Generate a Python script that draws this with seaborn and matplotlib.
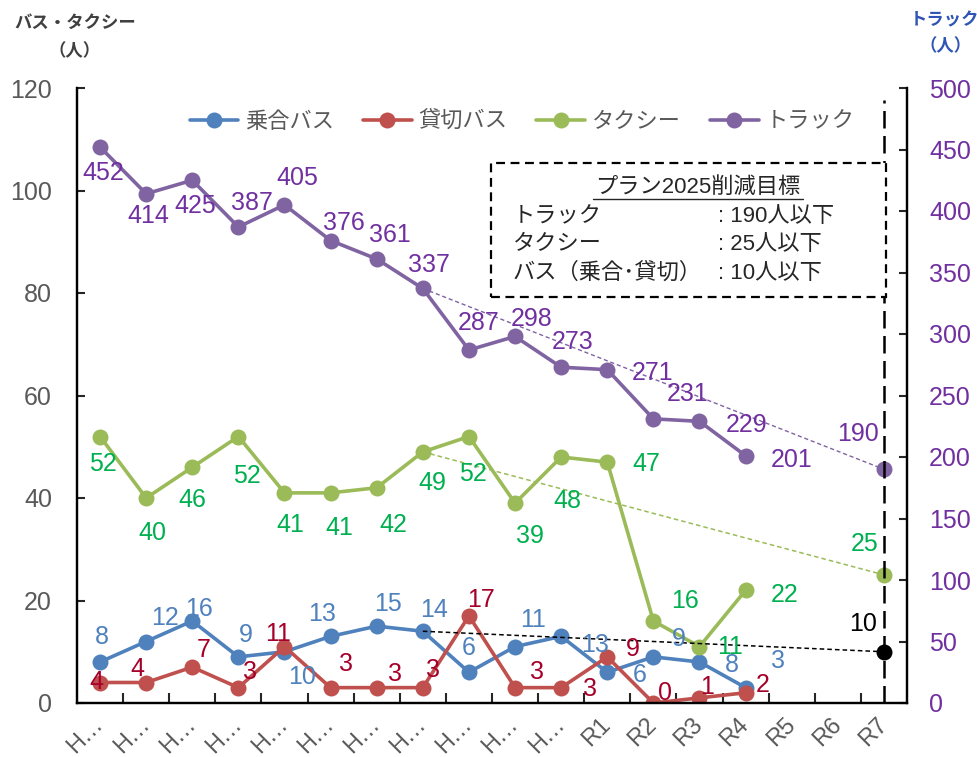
import numpy as np
import pandas as pd
import matplotlib.pyplot as plt
import seaborn as sns
from matplotlib.lines import Line2D
from matplotlib.patches import Rectangle

# 年度（H… は平成、R は令和）
years = ['H…'] * 11 + ['R1', 'R2', 'R3', 'R4', 'R5', 'R6', 'R7']
shared_bus = [8, 12, 16, 9, 10, 13, 15, 14, 6, 11, 13, 6, 9, 8, 3]
charter_bus = [4, 4, 7, 3, 11, 3, 3, 3, 17, 3, 3, 9, 0, 1, 2]
taxi = [52, 40, 46, 52, 41, 41, 42, 49, 52, 39, 48, 47, 16, 11, 22]
truck = [452, 414, 425, 387, 405, 376, 361, 337, 287, 298, 273, 271, 231, 229, 201]

# プラン2025 の目標値（R7）
target_bus = 10
target_taxi = 25
target_truck = 190
trend_start = 7

COL_BUS, COL_CHARTER, COL_TAXI, COL_TRUCK = '#4F81BD', '#C0504D', '#9BBB59', '#8064A2'
TXT_BUS, TXT_CHARTER, TXT_TAXI, TXT_TRUCK = '#4F81BD', '#A5002A', '#00B050', '#7030A0'
GRAY = '#595959'

# label offsets in pixels (dx, dy downward), tuned by eye
off_bus = [(2, -27), (19, -26), (7, -15), (7, -24), (18, 23), (-9, -25), (11, -25), (11, -24),
           (0, -27), (18, -29), (34, 6), (32, 0), (25, -20), (32, 0), (32, -29)]
off_charter = [(-4, -3), (-9, -16), (11, -20), (12, -18), (-6, -15), (15, -26), (18, -16), (10, -20),
               (12, -18), (22, -18), (29, -1), (26, -10), (12, -13), (8, -13), (17, -10)]
off_taxi = [(3, 25), (6, 33), (0, 30), (9, 37), (6, 30), (9, 33), (17, 35), (9, 29),
            (4, 35), (15, 30), (6, 42), (39, -1), (32, -22), (31, -2), (39, 2)]
off_truck = [(3, 23), (2, 20), (3, 23), (14, -26), (13, -29), (13, -20), (13, -26), (6, -26),
             (10, -29), (17, -20), (11, -28), (45, 1), (34, -27), (47, 1), (46, 2)]

sns.set_style('white')
plt.rcParams['font.family'] = ['Liberation Sans', 'Noto Sans CJK JP']

W, H = 978, 757
fig, ax = plt.subplots(figsize=(W / 100, H / 100), dpi=100)
fig.subplots_adjust(left=77 / W, right=907 / W, bottom=1 - 703 / H, top=1 - 88 / H)
ax2 = ax.twinx()

df = pd.DataFrame({'x': range(len(truck)), '乗合バス': shared_bus, '貸切バス': charter_bus,
                   'タクシー': taxi, 'トラック': truck})

line_kw = dict(marker='o', markersize=11.5, linewidth=2.6, markeredgewidth=0)
sns.lineplot(data=df, x='x', y='乗合バス', ax=ax, color=COL_BUS, label='乗合バス', **line_kw)
sns.lineplot(data=df, x='x', y='貸切バス', ax=ax, color=COL_CHARTER, label='貸切バス', **line_kw)
sns.lineplot(data=df, x='x', y='タクシー', ax=ax, color=COL_TAXI, label='タクシー', **line_kw)
sns.lineplot(data=df, x='x', y='トラック', ax=ax2, color=COL_TRUCK, label='トラック', **line_kw)

last = len(years) - 1
# trend lines toward the targets
ax.plot([trend_start, last], [shared_bus[trend_start], target_bus], color='black', lw=1.1, ls=(0, (3, 2)))
ax.plot([trend_start, last], [taxi[trend_start], target_taxi], color=COL_TAXI, lw=1.1, ls=(0, (3, 2)))
ax2.plot([trend_start, last], [truck[trend_start], target_truck], color=COL_TRUCK, lw=1.0, ls=(0, (3, 2)))
ax.plot(last, target_bus, 'o', color='black', markersize=11.5, markeredgewidth=0)
ax.plot(last, target_taxi, 'o', color=COL_TAXI, markersize=11.5, markeredgewidth=0)
ax2.plot(last, target_truck, 'o', color=COL_TRUCK, markersize=11.5, markeredgewidth=0)
ax2.axvline(last, ymin=0, ymax=0.98, color='black', lw=1.8, ls=(0, (7, 3)))


def put_labels(axis, vals, offs, color):
    for i, (v, (dx, dy)) in enumerate(zip(vals, offs)):
        axis.annotate(str(v), (i, v), xytext=(dx, -dy), textcoords='offset pixels',
                      ha='center', va='center_baseline', fontsize=18, color=color)


put_labels(ax, shared_bus, off_bus, TXT_BUS)
put_labels(ax, charter_bus, off_charter, TXT_CHARTER)
put_labels(ax, taxi, off_taxi, TXT_TAXI)
put_labels(ax2, truck, off_truck, TXT_TRUCK)
ax.annotate(str(target_bus), (last, target_bus), xytext=(-21, 30), textcoords='offset pixels',
            ha='center', va='center_baseline', fontsize=18, color='black')
ax.annotate(str(target_taxi), (last, target_taxi), xytext=(-19, 33), textcoords='offset pixels',
            ha='center', va='center_baseline', fontsize=18, color=TXT_TAXI)
ax2.annotate(str(target_truck), (last, target_truck), xytext=(-26, 38), textcoords='offset pixels',
             ha='center', va='center_baseline', fontsize=18, color=TXT_TRUCK)

# axes
ax.set_xlim(-0.5, last + 0.5)
ax.set_ylim(0, 120)
ax2.set_ylim(0, 500)
ax.set_yticks(range(0, 121, 20))
ax2.set_yticks(range(0, 501, 50))
ax.set_xticks(range(len(years)))
ax.set_xticks(np.arange(0.5, last, 1), minor=True)
ax.set_xticklabels(years, rotation=45, ha='right', va='center', rotation_mode='anchor')
ax.set_xlabel('')
ax.set_ylabel('')
ax2.set_ylabel('')
ax.tick_params(axis='x', which='major', length=0, pad=13, labelsize=17, labelcolor=GRAY)
ax.tick_params(axis='x', which='minor', direction='in', length=7, width=1.5, bottom=True)
ax.tick_params(axis='y', direction='in', length=6, width=1.5, pad=18, labelsize=18, labelcolor=GRAY)
ax2.tick_params(axis='y', direction='in', length=6, width=1.5, pad=16, labelsize=18, labelcolor=TXT_TRUCK)
for a in (ax, ax2):
    a.spines['top'].set_visible(False)
    for s in ('left', 'right', 'bottom'):
        a.spines[s].set_color('black')
        a.spines[s].set_linewidth(1.6)
    a.grid(False)

# legend across both axes
h1, l1 = ax.get_legend_handles_labels()
h2, l2 = ax2.get_legend_handles_labels()
for a in (ax, ax2):
    if a.get_legend():
        a.get_legend().remove()
fig.legend(h1 + h2, l1 + l2, loc='center', bbox_to_anchor=(522 / W, 1 - 122 / H), ncol=4,
           frameon=False, fontsize=16, handlelength=2.2, handletextpad=0.3, columnspacing=1.3,
           labelcolor=GRAY)


def px(x, y):
    return x / W, 1 - y / H


# axis titles
fig.text(*px(75, 23), 'バス・タクシー', ha='center', va='center', fontsize=12.5, weight='bold', color='#404040')
fig.text(*px(75, 51), '（人）', ha='center', va='center', fontsize=12.5, weight='bold', color='#404040')
fig.text(*px(945, 20), 'トラック', ha='center', va='center', fontsize=12.5, weight='bold', color='#2F54B5')
fig.text(*px(946, 46), '（人）', ha='center', va='center', fontsize=12.5, weight='bold', color='#2F54B5')

# target box
x0, y0 = px(491, 297)
fig.add_artist(Rectangle((x0, y0), 395 / W, 134 / H, transform=fig.transFigure, facecolor='white',
                         edgecolor='black', lw=1.6, ls=(0, (4, 2.5)), zorder=5))
fig.text(*px(698, 187), 'プラン2025削減目標', ha='center', va='center', fontsize=16, color='#262626', zorder=6)
fig.add_artist(Line2D([593 / W, 803 / W], [1 - 199 / H] * 2, color='#262626', lw=1, zorder=6))
rows = [('トラック', ': 190人以下'), ('タクシー', ': 25人以下'), ('バス（乗合･貸切）', ': 10人以下')]
for k, (name, goal) in enumerate(rows):
    yy = 217 + 28 * k
    fig.text(*px(513, yy), name, ha='left', va='center', fontsize=16, color='#262626', zorder=6)
    fig.text(*px(718, yy), goal, ha='left', va='center', fontsize=16, color='#262626', zorder=6)

fig.savefig('out.png', dpi=100)
